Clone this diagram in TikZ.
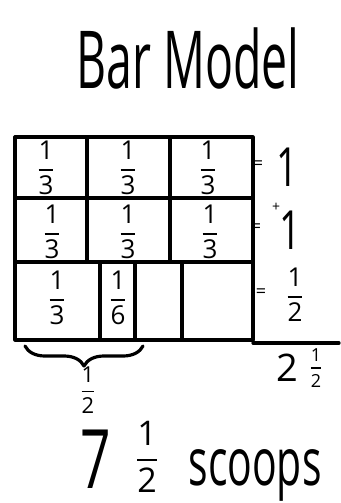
\documentclass[tikz,border=0pt]{standalone}
\usepackage{fontspec}
\setmainfont{Open Sans}
\usepackage{amsmath}
\usetikzlibrary{decorations.pathreplacing}
\newcommand{\hfr}[2]{$\genfrac{}{}{0.9pt}{0}{\mbox{#1}}{\mbox{#2}}$}

\begin{document}
\begin{tikzpicture}[x=0.5pt, y=-0.5pt, line width=1.6pt, line cap=round, line join=round,
    cell/.style={font=\fontsize{13}{15}\selectfont, inner sep=1pt},
    total/.style={font=\fontsize{27}{30}\selectfont, inner sep=0pt},
    eq/.style={font=\fontsize{9}{10}\selectfont, inner sep=0pt}]
    \useasboundingbox (0,0) rectangle (341,503);
    \node[font=\fontsize{40}{44}\selectfont, anchor=base] (title) at (188,88) {\scalebox{0.58}[1]{Bar Model}};

    \draw (15,137) rectangle (253,340);
    \draw (15,198) -- (253,198);
    \draw (15,262) -- (253,262);
    \foreach \x in {87,170} \draw (\x,137) -- (\x,262);
    \foreach \x in {100,135,182} \draw (\x,262) -- (\x,340);
    \draw (253,343) -- (339,343);

    \foreach \x/\y/\n in {46/168/a, 128/168/b, 208/168/c, 52/232/d, 128/232/e, 210/232/f, 57/298/g}
        \node[cell] (third-\n) at (\x,\y) {\hfr{1}{3}};
    \node[cell] (sixth) at (118,298) {\hfr{1}{6}};

    \node[eq] (eq1) at (258,165) {=};
    \node[total] (one1) at (287,167) {\scalebox{0.7}[1]{1}};
    \node[eq] (eq2) at (256,228) {=};
    \node[eq, font=\fontsize{7}{8}\selectfont] (plus) at (276,207) {+};
    \node[total] (one2) at (290,230) {\scalebox{0.7}[1]{1}};
    \node[eq] (eq3) at (261,293) {=};
    \node[cell] (half-row) at (295,295) {\hfr{1}{2}};
    \node[font=\fontsize{19}{22}\selectfont, inner sep=0pt] (sum) at (287,368) {2};
    \node[font=\fontsize{9}{11}\selectfont, inner sep=0pt] (sum-half) at (316,368) {\hfr{1}{2}};

    \draw[decorate, decoration={brace, amplitude=10pt, mirror}] (25,346) -- (143,346);
    \node[cell, font=\fontsize{11}{13}\selectfont] (half-brace) at (88,390) {\hfr{1}{2}};

    \node[font=\fontsize{41}{44}\selectfont, anchor=base, inner sep=0pt] (seven) at (96,488) {\scalebox{0.65}[1]{7}};
    \node[font=\fontsize{17}{20}\selectfont, inner sep=0pt] (half) at (147,457) {\hfr{1}{2}};
    \node[font=\fontsize{33}{36}\selectfont, anchor=base, inner sep=0pt] (scoops) at (255,485) {\scalebox{0.62}[1]{scoops}};
\end{tikzpicture}
\end{document}
